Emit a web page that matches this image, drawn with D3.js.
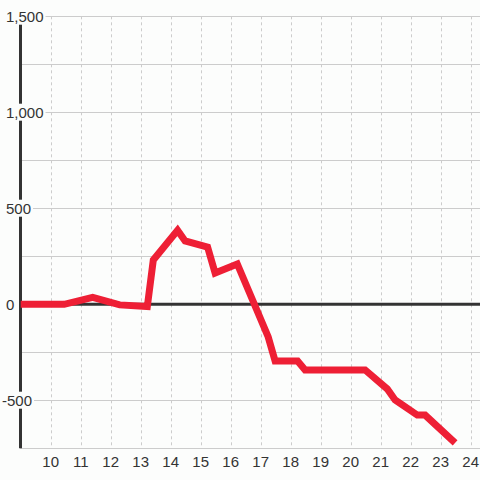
<!DOCTYPE html>
<html><head><meta charset="utf-8">
<script src="https://cdn.jsdelivr.net/npm/d3@7"></script>
<style>
html,body{margin:0;padding:0;background:#fcfdfc;}
svg{display:block;font-family:"Liberation Sans",Arial,sans-serif;}
</style></head>
<body>
<svg id="chart" width="480" height="480"></svg>
<script>
const hours = [9, 10.45, 11.4, 12.3, 13.22, 13.42, 14.23, 14.48, 15.23, 15.48, 16.22, 17.25, 17.48, 18.23, 18.48, 20.48, 21.22, 21.48, 22.22, 22.48, 23.48];
const values = [0, 0, 36, -3, -12, 231, 385, 330, 298, 163, 210, -170, -295, -295, -342, -342, -441, -498, -577, -577, -722];
const xTicks = [10, 11, 12, 13, 14, 15, 16, 17, 18, 19, 20, 21, 22, 23, 24];
const yGrid = [1500, 1250, 1000, 750, 500, 250, -250, -500, -750];
const yLabels = [1500, 1000, 500, 0, -500];

const svg = d3.select("#chart");
const x = d3.scaleLinear().domain([9, 24.31]).range([20.7, 480]);
const y = d3.scaleLinear().domain([-750, 1500]).range([448.3, 16.3]);

svg.append("rect").attr("width", 480).attr("height", 480).attr("fill", "#fcfdfc");

// horizontal grid
svg.append("g").selectAll("line").data(yGrid).join("line")
  .attr("x1", 20).attr("x2", 480)
  .attr("y1", d => Math.round(y(d)) + 0.5).attr("y2", d => Math.round(y(d)) + 0.5)
  .attr("stroke", "#cccccc").attr("stroke-width", 1);

// vertical dashed grid
svg.append("g").selectAll("line").data(xTicks).join("line")
  .attr("x1", d => Math.round(x(d)) + 0.5).attr("x2", d => Math.round(x(d)) + 0.5)
  .attr("y1", y(1500)).attr("y2", y(-750))
  .attr("stroke", "#cccccc").attr("stroke-width", 1).attr("stroke-dasharray", "3,3");

// y axis line
svg.append("line").attr("x1", 20.5).attr("x2", 20.5).attr("y1", y(1500)).attr("y2", y(-750))
  .attr("stroke", "#333333").attr("stroke-width", 3);

// zero line
svg.append("line").attr("x1", 20).attr("x2", 480).attr("y1", y(0)).attr("y2", y(0))
  .attr("stroke", "#333333").attr("stroke-width", 3);

// y labels with background
const fmt = d3.format(",");
const yl = svg.append("g").selectAll("g").data(yLabels).join("g");
yl.append("text")
  .attr("x", d => d < 0 ? 2 : 6)
  .attr("y", d => y(d))
  .attr("dy", "0.36em")
  .attr("font-size", 15)
  .attr("fill", "#333333")
  .text(d => d < 0 ? "-" + fmt(-d) : fmt(d));
yl.each(function() {
  const g = d3.select(this);
  const bb = g.select("text").node().getBBox();
  g.insert("rect", "text").attr("x", bb.x - 2).attr("y", bb.y).attr("width", bb.width + 4).attr("height", bb.height)
    .attr("fill", "#fcfdfc");
});

// x labels
svg.append("g").selectAll("text").data(xTicks).join("text")
  .attr("x", d => x(d)).attr("y", 466.5)
  .attr("text-anchor", "middle").attr("font-size", 15).attr("fill", "#333333")
  .text(d => d);

// red line
const line = d3.line().x((d, i) => x(hours[i])).y(d => y(d));
svg.append("path").datum(values)
  .attr("d", line)
  .attr("fill", "none").attr("stroke", "#ee1f35").attr("stroke-width", 7)
  .attr("stroke-linejoin", "miter").attr("stroke-linecap", "butt");
</script>
</body></html>
